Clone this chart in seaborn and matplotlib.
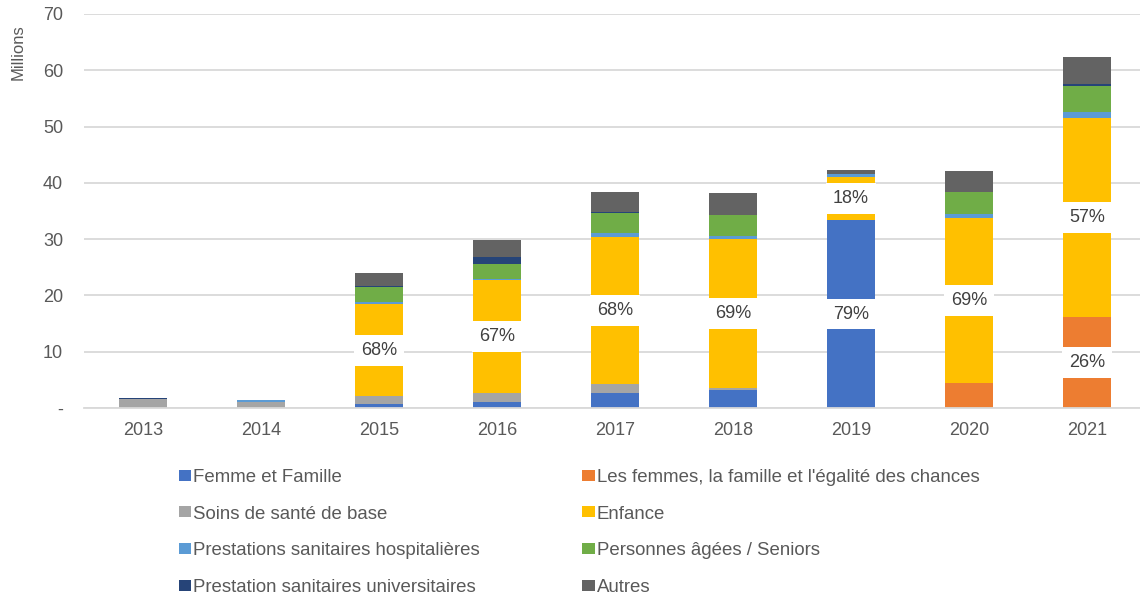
import matplotlib.pyplot as plt
import seaborn as sns
import numpy as np
from matplotlib.patches import Patch

# data (millions)
years = ['2013', '2014', '2015', '2016', '2017', '2018', '2019', '2020', '2021']
series = ['Femme et Famille',
          "Les femmes, la famille et l'égalité des chances",
          'Soins de santé de base',
          'Enfance',
          'Prestations sanitaires hospitalières',
          'Personnes âgées / Seniors',
          'Prestation sanitaires universitaires',
          'Autres']
femme = [0, 0, 0.7, 1.0, 2.6, 3.2, 33.4, 0, 0]
egalite = [0, 0, 0, 0, 0, 0, 0, 4.5, 16.1]
soins = [1.55, 1.15, 1.35, 1.6, 1.7, 0.35, 0, 0, 0]
enfance = [0, 0, 16.4, 20.1, 26.0, 26.4, 7.6, 29.2, 35.5]
hosp = [0.1, 0.2, 0.3, 0.25, 0.8, 0.6, 0.6, 0.8, 0.95]
seniors = [0, 0, 2.7, 2.6, 3.5, 3.8, 0, 3.85, 4.7]
univ = [0.15, 0.05, 0.2, 1.2, 0.3, 0, 0, 0, 0.25]
autres = [0, 0, 2.3, 3.1, 3.4, 3.9, 0.7, 3.8, 4.85]

# percentage labels: (year, series index, text)
label_years = ['2015', '2016', '2017', '2018', '2019', '2019', '2020', '2021', '2021']
label_series = [3, 3, 3, 3, 0, 3, 3, 1, 3]
label_text = ['68%', '67%', '68%', '69%', '79%', '18%', '69%', '26%', '57%']

colors = ['#4472C4', '#ED7D31', '#A5A5A5', '#FFC000',
          '#5B9BD5', '#70AD47', '#264478', '#636363']

values = np.array([femme, egalite, soins, enfance, hosp, seniors, univ, autres])
cum = np.cumsum(values, axis=0)

sns.set_style('white')
plt.rcParams['font.family'] = ['Liberation Sans', 'DejaVu Sans']

fig = plt.figure(figsize=(11.4, 5.97), dpi=100)
ax = fig.add_axes([84 / 1140, 1 - 408 / 597, 1 - 84 / 1140, (408 - 14) / 597])

# stacked bars: draw cumulative totals from the top series down
for i in range(len(series) - 1, -1, -1):
    sns.barplot(x=years, y=cum[i], color=colors[i], width=0.4, saturation=1,
                linewidth=0, errorbar=None, ax=ax, zorder=2)

for yr, si, txt in zip(label_years, label_series, label_text):
    j = years.index(yr)
    base = cum[si - 1][j] if si > 0 else 0
    mid = base + values[si][j] / 2
    ax.text(j, mid, txt, ha='center', va='center', fontsize=13, color='#404040',
            zorder=5, bbox=dict(facecolor='white', edgecolor='none', pad=5))

ax.set_ylim(0, 70)
ax.set_xlim(-0.5, 8.45)
ax.set_yticks(range(0, 71, 10))
ax.set_yticklabels(['-'] + [str(v) for v in range(10, 71, 10)])
ax.yaxis.grid(True, color='#d9d9d9', linewidth=1.3)
ax.set_axisbelow(True)
for s in ['left', 'right', 'top']:
    ax.spines[s].set_visible(False)
ax.spines['bottom'].set_color('#d9d9d9')
ax.spines['bottom'].set_linewidth(1.3)
ax.tick_params(axis='y', length=0, pad=15, labelsize=13, labelcolor='#595959')
ax.tick_params(axis='x', length=0, pad=10, labelsize=13, labelcolor='#595959')
ax.set_xlabel('')
ax.set_ylabel('')

fig.text(18 / 1140, 1 - 52 / 597, 'Millions', rotation=90, ha='center', va='center',
         fontsize=12, color='#595959')

order = [0, 2, 4, 6, 1, 3, 5, 7]
handles = [Patch(facecolor=colors[i], edgecolor='none') for i in order]
labels = [series[i] for i in order]
fig.legend(handles, labels, loc='upper left', bbox_to_anchor=(179 / 1140, 1 - 469 / 597),
           ncol=2, frameon=False, fontsize=13.4, labelcolor='#595959',
           handlelength=0.65, handleheight=0.53, handletextpad=0.12,
           labelspacing=1.05, columnspacing=5.5, borderpad=0, borderaxespad=0)

fig.savefig('out.png', dpi=100)
